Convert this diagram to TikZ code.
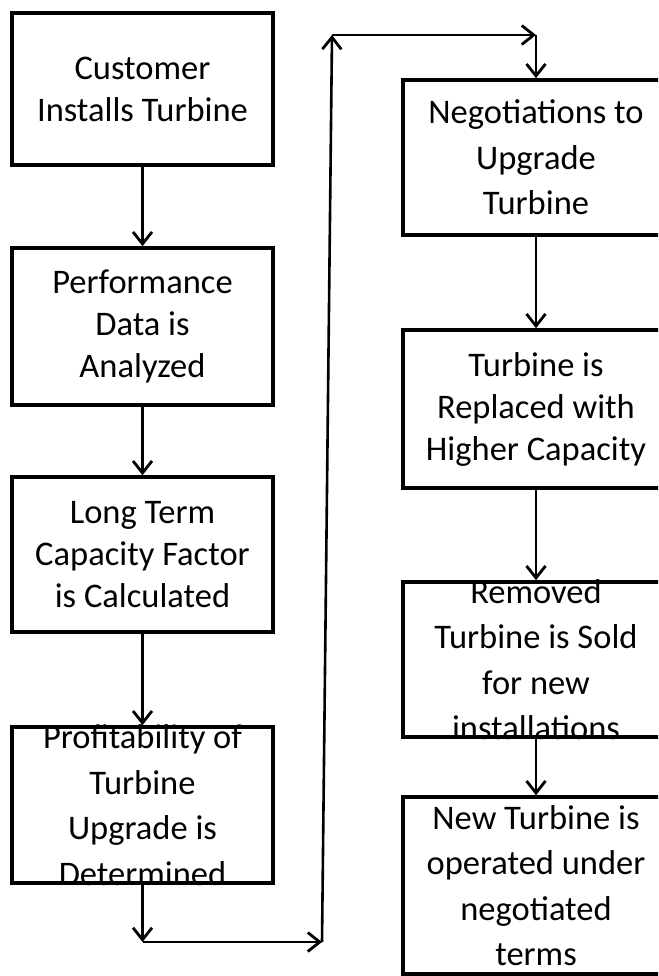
\documentclass[tikz,border=0pt]{standalone}
\usepackage{fontspec}
\setmainfont{Carlito}
\usetikzlibrary{arrows.meta}
\begin{document}
\begin{tikzpicture}[x=1pt, y=-1pt,
  box/.style={draw, line width=3.6pt, inner sep=0pt},
  lbox/.style={box, minimum width=261pt},
  rbox/.style={box, minimum width=266pt},
  txt/.style={align=center, inner sep=0pt, font=\fontsize{34.5}{42}\selectfont},
  txtb/.style={align=center, inner sep=0pt, font=\fontsize{34.5}{45.5}\selectfont},
  conn/.style={line width=2.6pt, -{Straight Barb[length=12pt,width=19pt,line width=2.8pt]}}]
\useasboundingbox (0,0) rectangle (658,976);
\fill[white] (0,0) rectangle (658,976);
\clip (0,0) rectangle (658,976);
% left column
\node[lbox, minimum height=152pt, label={[txt]center:{Customer\\Installs Turbine}}] (b1) at (142.5,89) {};
\node[lbox, minimum height=157pt, label={[txt]center:{Performance\\Data is\\Analyzed}}] (b2) at (142.5,326.5) {};
\node[lbox, minimum height=155pt, label={[txt]center:{Long Term\\Capacity Factor\\is Calculated}}] (b3) at (142.5,554.5) {};
\node[lbox, minimum height=156pt, label={[txtb]center:{Profitability of\\Turbine\\Upgrade is\\Determined}}] (b4) at (142.5,805) {};
% right column
\node[rbox, minimum height=155pt, label={[txtb]center:{Negotiations to\\Upgrade\\Turbine}}] (r1) at (536,157.5) {};
\node[rbox, minimum height=158pt, label={[txt]center:{Turbine is\\Replaced with\\Higher Capacity}}] (r2) at (536,409) {};
\node[rbox, minimum height=155pt, label={[txtb]center:{Removed\\Turbine is Sold\\for new\\installations}}] (r3) at (536,659.5) {};
\node[rbox, minimum height=177pt, label={[txtb]center:{New Turbine is\\operated under\\negotiated\\terms}}] (r4) at (536,885.5) {};
% connectors
\coordinate (c1) at (142.5,942);
\coordinate (c2) at (322,942);
\coordinate (c3) at (332,35);
\coordinate (c4) at (536,35);
\draw[conn] (b1.south) -- (b2.north);
\draw[conn] (b2.south) -- (b3.north);
\draw[conn] (b3.south) -- (b4.north);
\draw[conn] (b4.south) -- (c1);
\draw[conn] (c1) -- (c2);
\draw[conn] (c2) -- (c3);
\draw[conn] (c3) -- (c4);
\draw[conn] (c4) -- (r1.north);
\draw[conn] (r1.south) -- (r2.north);
\draw[conn] (r2.south) -- (r3.north);
\draw[conn] (r3.south) -- (r4.north);
\end{tikzpicture}
\end{document}
